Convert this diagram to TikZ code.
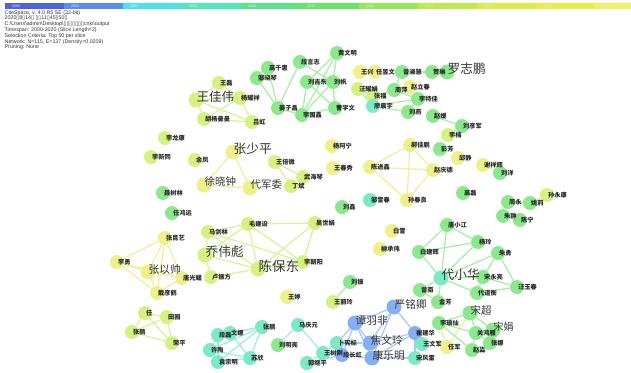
\documentclass[tikz,border=0pt]{standalone}
\usepackage{fontspec}
\setmainfont{Liberation Sans}
\newfontfamily\cjk{Noto Sans CJK SC}
\newfontfamily\symfont{DejaVu Sans}
\usetikzlibrary{backgrounds}

\definecolor{cY}{HTML}{EEF08C}
\definecolor{cYG}{HTML}{D6F182}
\definecolor{cG}{HTML}{8CE88C}
\definecolor{cT}{HTML}{7CE8C4}
\definecolor{cB}{HTML}{86AEF2}
\definecolor{eY}{HTML}{EEF09C}
\definecolor{eYG}{HTML}{DAF29A}
\definecolor{eG}{HTML}{A8EEA8}
\definecolor{eT}{HTML}{A2EED6}
\definecolor{eB}{HTML}{AEC8F4}
\newcommand\sq{{\symfont\char"25AF}}

\tikzset{
  author/.style={circle,inner sep=0pt,minimum size=14pt},
  authortag/.style={anchor=west,inner sep=0pt,text=black!85,font=\cjk\bfseries\fontsize{6.2}{6.2}\selectfont},
  link/.style={line width=1.3pt}
}

% small authors: name/x/y/colour/label
\def\smallauthors{wl/219/83/cYG/王磊, yyx/240/98/cYG/杨耀祥, hymm/204/119/cYG/胡杨曼曼, lh/252/122/cYG/吕虹,
  gqh/268/68/cG/高千惠, zxq/257/78/cG/邹晓琴, dyz/300/62/cG/段言志, jzc/278/108/cG/姜子昌, lgx/302/115/cG/李国鑫,
  hwm/337/53/cG/黄文明, ljd/307/82/cG/刘吉东, lf/333/82/cG/刘帆, cxw/335/108/cG/曹学文,
  wx/360/72/cY/王兴, ryw/375/72/cY/任昱文, zsh/402/72/cG/曾淑慧, hl/432/72/cG/贺琳,
  wyj/358/89/cYG/汪耀娟, zf/373/96/cYG/张福, zp/394/90/cG/周萍, zlc/410/87/cY/赵立春, ltj/418/99/cG/李特佳,
  lcy/373/106/cT/廖晨宇, ly/408/112/cG/刘燕, zy/433/116/cG/赵媛, lyj/462/126/cG/刘彦军, ln/448/135/cYG/李楠,
  pf/440/149/cG/彭芳, qj/458/158/cY/邱静, xxh/483/165/cY/谢祥辉, lyang/500/173/cG/刘洋, gl/463/193/cG/高磊,
  syk/547/195/cYG/孙永康, zyong/508/202/cG/周永, yl/530/203/cG/姚莉, zc/503/216/cG/朱翀, cn/520/220/cG/陈宁,
  llk/165/138/cYG/李龙康, lxt/151/157/cYG/李新同, yf/195/160/cYG/余凤,
  wbw/275/162/cYG/王倍微, whq/303/177/cYG/武海琴, db/291/186/cYG/丁斌, nsl/163/193/cG/聂树林, rhy/172/213/cG/任鸿远,
  yan/332/146/cY/杨阿宁, wcx/333/168/cY/王春秀, hjp/410/145/cY/郝佳鹏, cjx/370/167/cY/陈进鑫,
  zqd/433/170/cY/赵庆德, scl/407/200/cY/孙春良, zxc/370/200/cT/邹雪春, lx/342/207/cG/刘鑫,
  mjs/248/224/cYG/毛建设, mjl/208/232/cYG/马剑林, lzf/211/277/cYG/卢振方, wsj/315/223/cYG/吴世娟, lzy/303/262/cYG/李朝阳,
  zky/165/238/cY/张昆艺, lyong/117/262/cY/李勇, tgy/182/278/cY/唐光耀, dyh/157/293/cY/戴彦鹤,
  bx/392/231/cY/白雪, lcw/380/249/cY/柳承伟,
  txj/447/225/cG/唐小江, yling/478/242/cG/杨玲, zyong2/498/253/cG/朱勇, bjh/419/252/cG/白建辉,
  syl/483/277/cG/宋永亮, wyc/517/287/cG/汪玉春, ddh/477/293/cG/代道衡, jf/438/302/cG/金芳, zn/420/290/cG/曾南,
  lz/350/282/cG/刘振, wt/287/297/cY/王婷, wll/333/302/cYG/王丽玲,
  cjh/415/333/cB/崔建华, wwj/422/344/cT/王文军, sfl/415/358/cT/宋风雷, bxb/337/343/cT/卜宪标,
  wsg/323/353/cT/王树刚, dch/342/355/cB/段长虹, mqy/298/325/cT/马庆元, lml/278/345/cG/刘明亮, gjp/307/363/cT/郭继平,
  lyx/439/323/cG/李瑜仙, rj/447/347/cY/任军, ghy/476/333/cG/关鸿雁, zna/490/343/cG/张娜, zm/472/350/cG/赵淼,
  ren/145/313/cYG/任, ty/167/317/cYG/田园, zpeng/132/332/cYG/张鹏, rp/172/343/cYG/荣平,
  zpeng2/262/327/cT/张鹏, dl/218/335/cT/段磊, wn/230/333/cT/文娜, xt/210/350/cT/许陶, sx/250/358/cT/苏欣, yzm/218/362/cT/袁宗明}

% large authors: name/x/y/colour/size/label
\def\bigauthors{wjw/196/100/cYG/12.5/王佳伟, lzp/447/72/cG/12.7/罗志鹏, zsp/233/152/cY/12.7/张少平,
  xxz/204/185/cY/10.5/徐晓钟, djw/250/188/cY/10.5/代军委, qwb/205/255/cYG/12.7/乔伟彪, cbd/258/269/cYG/13.5/陈保东,
  zys/148/272/cY/10.7/张以帅, dxh/441/278/cT/12.7/代小华, ymq/394/307/cB/10.7/严铭卿, tyf/355/323/cB/10.7/谭羽非,
  jwl/370/343/cB/10.7/焦文玲, klm/372/358/cB/10.7/康乐明, sc/470/313/cG/10.5/宋超, sj/493/330/cG/10/宋娟}

\begin{document}
\begin{tikzpicture}[x=1pt,y=-1pt]
\useasboundingbox (0,0) rectangle (631,372);

% time slices
\foreach \i/\c in {0/4C62E2, 1/5A8CF2, 2/48E4EA, 3/4EE8BC, 4/58E48A, 5/66E666, 6/94E85A, 7/BCEA4C, 8/DCEA44, 9/ECEC48, 10/F2F060} {
  \definecolor{slice}{HTML}{\c}
  \fill[slice] ({5+59*\i},3) rectangle ({64+59*\i},8.5);
  \pgfmathtruncatemacro\yr{2000+2*\i}
  \node[anchor=west,inner sep=0pt,text=white!85!gray,font=\fontsize{3.6}{3.6}\selectfont] (yr-\i) at ({12+59*\i},5.8) {\yr};
}

\node[anchor=north west,align=left,inner sep=0pt,text=black!80,font=\fontsize{5.3}{5.8}\selectfont] (info) at (4.5,10)
  {CiteSpace, v. 4.0.R5 SE (32-bit)\\
   2020\sq8\sq14\sq\ \sq\sq11\sq45\sq50\sq\\
   C:\textbackslash Users\textbackslash admin\textbackslash Desktop\textbackslash\sq\sq\sq\sq\sq\sq\sq cnki\textbackslash output\\
   Timespan: 2000-2020 (Slice Length=2)\\
   Selection Criteria: Top 50 per slice\\
   Network: N=115, E=137 (Density=0.0209)\\
   Pruning: None};

\foreach \n/\x/\y/\c/\t in \smallauthors
  \node[author,fill=\c] (\n) at (\x,\y) {};
\foreach \n/\x/\y/\c/\s/\t in \bigauthors
  \node[author,minimum size=15pt,fill=\c] (\n) at (\x,\y) {};

\begin{pgfonlayer}{background}
  \foreach \a/\b in {wjw/wl, wjw/yyx, wjw/hymm, wjw/lh, wl/yyx, yyx/hymm, yyx/lh, hymm/lh,
      mjl/mjs, mjl/qwb, mjl/cbd, mjs/qwb, mjs/cbd, mjs/wsj, mjs/lzy, qwb/cbd, qwb/lzf, lzf/cbd,
      cbd/wsj, cbd/lzy, wsj/lzy, mjl/lzy, wbw/db, wbw/whq, db/whq,
      ren/ty, ren/zpeng, ren/rp, ty/zpeng, ty/rp, zpeng/rp, yl/syk}
    \draw[link,eYG] (\a) -- (\b);
  \foreach \a/\b in {zsp/xxz, zsp/djw, xxz/djw, cjx/hjp, cjx/zqd, cjx/scl, hjp/zqd, hjp/scl, zqd/scl,
      zky/lyong, zky/zys, zky/tgy, zky/dyh, lyong/zys, lyong/tgy, zys/tgy, zys/dyh, tgy/dyh, lyong/dyh,
      wx/ryw, rj/lyx, rj/sc, xxh/lyang}
    \draw[link,eY] (\a) -- (\b);
  \foreach \a/\b in {jzc/zxq, jzc/gqh, jzc/dyz, jzc/lgx, hwm/ljd, hwm/lf, hwm/lgx, dyz/lf, ljd/lf, ljd/lgx,
      ljd/cxw, lf/lgx, lf/cxw, lgx/cxw,
      zsh/zp, zsh/hl, hl/lzp, zp/zf, zp/zlc, zp/ltj, wyj/zf, wyj/lcy, lcy/ltj, lcy/ly, ly/ltj, zy/lyj, lyj/ln,
      txj/yling, txj/bjh, txj/dxh, yling/bjh, yling/dxh, bjh/dxh, zyong2/syl, zyong2/wyc, zyong2/dxh,
      syl/wyc, syl/ddh, syl/dxh, ddh/wyc, ddh/dxh, zn/jf, zn/dxh, jf/dxh,
      lz/wll, zyong/yl, zyong/zc, zc/cn,
      sc/lyx, sc/ghy, sc/sj, lyx/ghy, lyx/zm, ghy/sj, ghy/zna, ghy/zm, zna/sj, zna/zm}
    \draw[link,eG] (\a) -- (\b);
  \foreach \a/\b in {zpeng2/dl, zpeng2/wn, zpeng2/xt, zpeng2/sx, zpeng2/yzm, dl/wn, dl/xt, dl/yzm,
      wn/sx, xt/yzm, xt/sx, yzm/sx, mqy/wsg, mqy/lml, gjp/wsg, bxb/wsg}
    \draw[link,eT] (\a) -- (\b);
  \foreach \a/\b in {ymq/tyf, ymq/jwl, ymq/klm, ymq/cjh, tyf/jwl, tyf/klm, tyf/bxb, tyf/dch, jwl/klm,
      jwl/cjh, klm/cjh, cjh/wwj, cjh/sfl, bxb/jwl, wsg/dch, dch/klm, gjp/dch, klm/sfl}
    \draw[link,eB] (\a) -- (\b);
\end{pgfonlayer}

\foreach \n/\x/\y/\c/\t in \smallauthors
  \node[authortag] (\n-t) at ([xshift=1pt]\n.center) {\t};
\foreach \n/\x/\y/\c/\s/\t in \bigauthors
  \node[authortag,yshift=3pt,text=black!80,font=\cjk\fontsize{\s}{\s}\selectfont] (\n-t) at ([xshift=0.5pt]\n.center) {\t};
\end{tikzpicture}
\end{document}
